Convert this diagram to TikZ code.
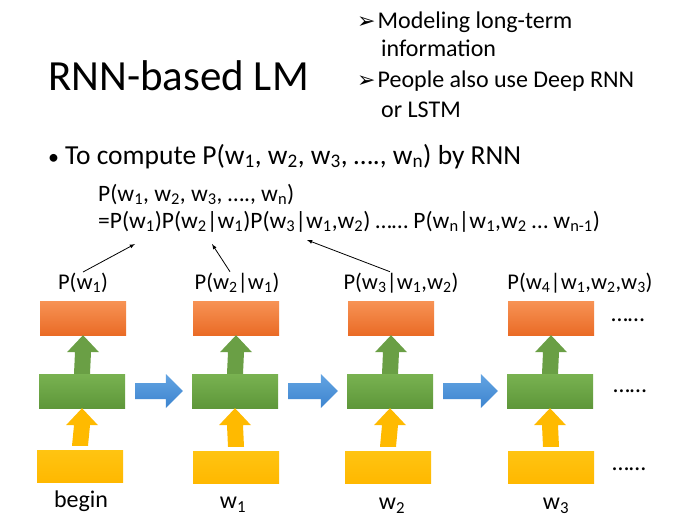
\documentclass[tikz,border=0pt]{standalone}
\usepackage{fontspec}
\setmainfont{Carlito}
\newfontfamily\symfont{DejaVu Sans}
\usetikzlibrary{calc}
\definecolor{orgT}{HTML}{F79355}
\definecolor{orgB}{HTML}{EA6B26}
\definecolor{grnT}{HTML}{79B251}
\definecolor{grnB}{HTML}{5E973A}
\definecolor{ylwT}{HTML}{FFC412}
\definecolor{ylwB}{HTML}{FFB800}
\definecolor{grnA}{HTML}{6A9F45}
\definecolor{ylwA}{HTML}{FFBA00}
\definecolor{bluT}{HTML}{63A4E2}
\definecolor{bluB}{HTML}{3D84CF}
\newcommand{\ws}[1]{w\textsubscript{#1}}
\newcommand{\fs}[1]{\fontsize{#1}{#1}\selectfont}
% block arrows between two anchors
\newcommand{\uparr}[3]{\fill[#1] ($(#2)+(-8,0)$) -- ($(#3)+(-8,17)$) -- ($(#3)+(-16,17)$) -- (#3) -- ($(#3)+(16,17)$) -- ($(#3)+(8,17)$) -- ($(#2)+(8,0)$) -- cycle;}
\newcommand{\rtarr}[2]{\path[top color=bluT, bottom color=bluB] ($(#1)+(0,-8)$) -- ($(#2)+(-17,-8)$) -- ($(#2)+(-17,-17)$) -- (#2) -- ($(#2)+(-17,17)$) -- ($(#2)+(-17,8)$) -- ($(#1)+(0,8)$) -- cycle;}
\tikzset{
  box/.style={minimum width=86pt, minimum height=34pt, inner sep=0pt},
  outbox/.style={box, top color=orgT, bottom color=orgB},
  hidbox/.style={box, top color=grnT, bottom color=grnB},
  inbox/.style={box, minimum height=32pt, top color=ylwT, bottom color=ylwB},
  txt/.style={anchor=base west, inner sep=0pt},
  lbl/.style={font=\fs{22.5}, inner sep=1pt},
  dots/.style={font=\fs{24}, inner sep=0pt}
}
\begin{document}
\begin{tikzpicture}[x=1pt,y=-1pt]
    \fill[white] (0,0) rectangle (690,530);
    \useasboundingbox (0,0) rectangle (690,530);
    % title and notes
    \node[txt, font=\fs{43}] (title) at (48,90) {RNN-based LM};
    \node[txt, font=\fs{24}] (n1) at (357,28) {{\symfont\fs{22}➢}\hspace{2pt}Modeling long-term};
    \node[txt, font=\fs{24}] (n1b) at (381,56) {information};
    \node[txt, font=\fs{24}] (n2) at (357,87) {{\symfont\fs{22}➢}\hspace{2pt}People also use Deep RNN};
    \node[txt, font=\fs{24}] (n2b) at (381,117) {or LSTM};
    \node[txt, font=\fs{27.5}] (task) at (48,164) {{\fs{22}•}\hspace{6pt}To compute P(\ws{1}, \ws{2}, \ws{3}, …., \ws{n}) by RNN};
    \node[txt, font=\fs{23.5}] (eq1) at (98,201) {P(\ws{1}, \ws{2}, \ws{3}, …., \ws{n})};
    \node[txt, font=\fs{23.5}] (eq2) at (98,228) {=P(\ws{1})P(\ws{2}|\ws{1})P(\ws{3}|\ws{1},\ws{2}) …… P(\ws{n}|\ws{1},\ws{2} … \ws{n-1})};
    \coordinate (t1) at (135,244);
    \coordinate (t2) at (212,244);
    \coordinate (t3) at (307,240);
    % boxes
    \node[outbox] (o1) at (83,318) {};
    \node[outbox] (o2) at (236,318) {};
    \node[outbox] (o3) at (391,318) {};
    \node[outbox] (o4) at (551,318) {};
    \node[hidbox] (h1) at (82,391) {};
    \node[hidbox] (h2) at (235,391) {};
    \node[hidbox] (h3) at (390,391) {};
    \node[hidbox] (h4) at (550,391) {};
    \node[inbox] (i1) at (80,466) {};
    \node[inbox] (i2) at (236,467) {};
    \node[inbox] (i3) at (388,467) {};
    \node[inbox] (i4) at (551,467) {};
    % labels
    \node[lbl] (p1) at (83,283) {P(\ws{1})};
    \node[lbl] (p2) at (237,283) {P(\ws{2}|\ws{1})};
    \node[lbl] (p3) at (401,283) {P(\ws{3}|\ws{1},\ws{2})};
    \node[lbl] (p4) at (580,283) {P(\ws{4}|\ws{1},\ws{2},\ws{3})};
    \node[lbl, font=\fs{24}] (x1) at (81,501) {begin};
    \node[lbl, font=\fs{24}] (x2) at (233,505) {\ws{1}};
    \node[lbl, font=\fs{24}] (x3) at (392,506) {\ws{2}};
    \node[lbl, font=\fs{24}] (x4) at (556,506) {\ws{3}};
    \node[dots] (d1) at (628,320) {……};
    \node[dots] (d2) at (630,391) {……};
    \node[dots] (d3) at (629,469) {……};
    % arrows
    \uparr{grnA}{h1.north}{o1.south}
    \uparr{grnA}{h2.north}{o2.south}
    \uparr{grnA}{h3.north}{o3.south}
    \uparr{grnA}{h4.north}{o4.south}
    \uparr{ylwA}{[yshift=4pt]i1.north}{h1.south}
    \uparr{ylwA}{[yshift=4pt]i2.north}{h2.south}
    \uparr{ylwA}{[yshift=4pt]i3.north}{h3.south}
    \uparr{ylwA}{[yshift=4pt]i4.north}{h4.south}
    \rtarr{[xshift=10pt]h1.east}{[xshift=-9pt]h2.west}
    \rtarr{[xshift=10pt]h2.east}{[xshift=-9pt]h3.west}
    \rtarr{[xshift=10pt]h3.east}{[xshift=-9pt]h4.west}
    \draw[-latex, thick] (p1.north) -- (t1);
    \draw[-latex, thick] ([xshift=-7pt]p2.north) -- (t2);
    \draw[-latex, thick] ([xshift=-11pt]p3.north) -- (t3);
\end{tikzpicture}
\end{document}
